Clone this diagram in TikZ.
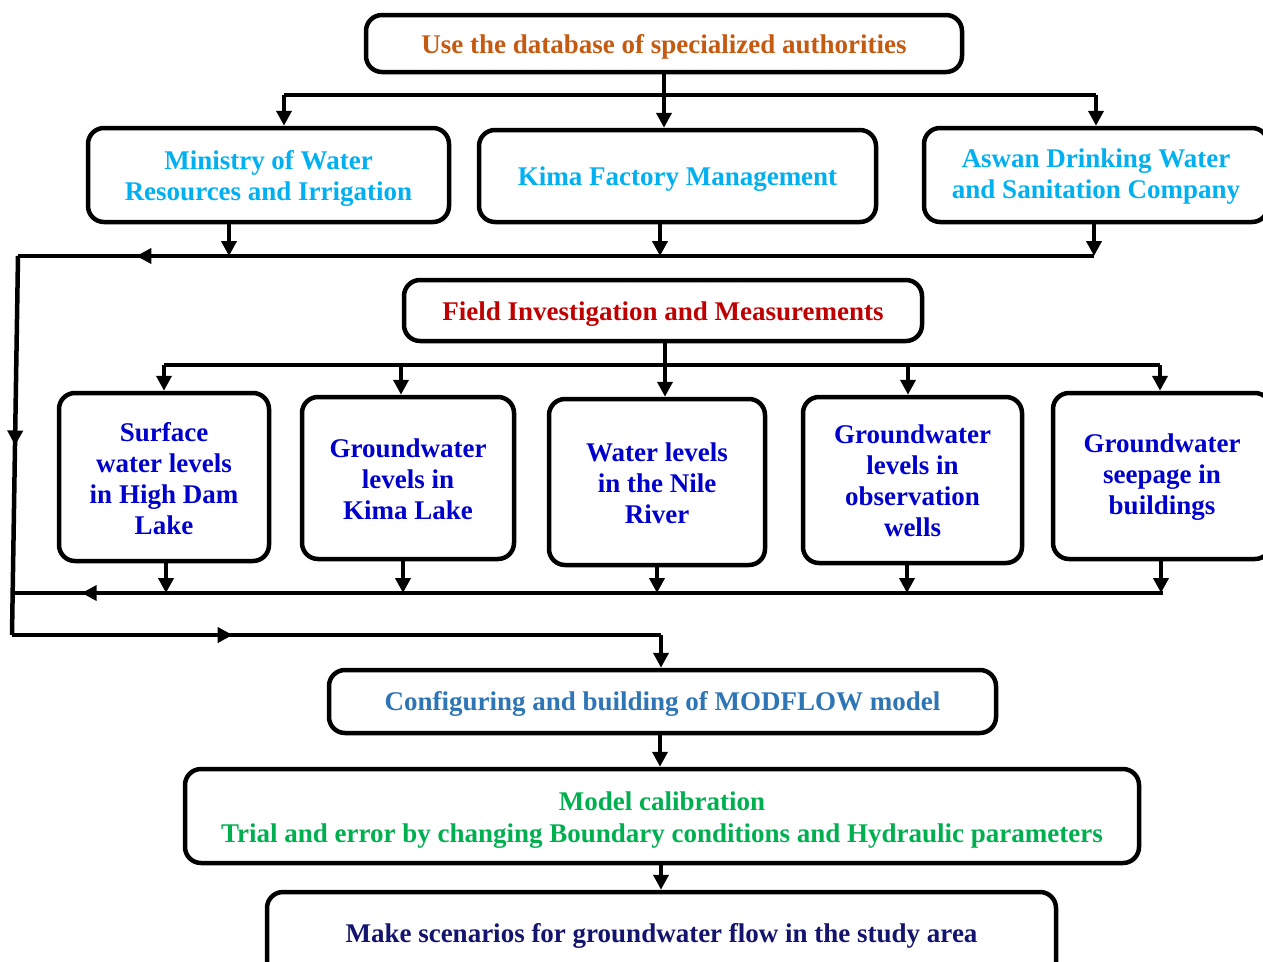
\documentclass[tikz,border=0pt]{standalone}
\usepackage{fontspec}
\setmainfont{Liberation Serif}
\usetikzlibrary{arrows.meta,decorations.markings}
\definecolor{corange}{HTML}{C55A11}
\definecolor{ccyan}{HTML}{00B0F0}
\definecolor{cred}{HTML}{C00000}
\definecolor{cblue}{HTML}{0000CC}
\definecolor{cmod}{HTML}{2E75B6}
\definecolor{cgreen}{HTML}{00B050}
\definecolor{cnavy}{HTML}{14146E}
\newcommand{\lowstrut}[1]{\rule{0pt}{#1}}
\tikzset{
  box/.style={draw, line width=4.5pt, rounded corners=16pt, fill=white, inner sep=0pt, align=center,
    font=\fontsize{27}{31}\selectfont\bfseries},
  line/.style={line width=4.5pt},
  arr/.style={line width=4.5pt, -{Triangle[length=15pt,width=15pt]}},
  midarrow/.style={line width=4.5pt, postaction={decorate}, decoration={markings,
    mark=at position #1 with {\arrow{Triangle[length=15pt,width=15pt]}}}}
}
\begin{document}
\begin{tikzpicture}[x=1pt,y=-1pt]
\useasboundingbox (0,0) rectangle (1263,961);
% boxes
\node[box, text=corange, minimum width=596pt, minimum height=57pt] (top) at (664,43.5) {\lowstrut{25.5pt}Use the database of specialized authorities};
\node[box, text=ccyan, minimum width=361pt, minimum height=94pt] (min) at (268.5,175) {\lowstrut{25pt}Ministry of Water\\Resources and Irrigation};
\node[box, text=ccyan, minimum width=397pt, minimum height=92pt] (kima) at (677.5,176) {\lowstrut{25.5pt}Kima Factory Management};
\node[box, text=ccyan, minimum width=344pt, minimum height=94pt] (asw) at (1096,175) {\lowstrut{22pt}Aswan Drinking Water\\and Sanitation Company};
\node[box, text=cred, minimum width=518pt, minimum height=61pt] (field) at (663,310.5) {\lowstrut{25.5pt}Field Investigation and Measurements};
\node[box, text=cblue, minimum width=210pt, minimum height=168pt] (r1) at (164,477) {\lowstrut{22pt}Surface\\water levels\\in High Dam\\Lake};
\node[box, text=cblue, minimum width=212pt, minimum height=162pt] (r2) at (408,478) {\lowstrut{22pt}Groundwater\\levels in\\Kima Lake};
\node[box, text=cblue, minimum width=216pt, minimum height=166pt] (r3) at (657,482) {\lowstrut{22pt}Water levels\\in the Nile\\River};
\node[box, text=cblue, minimum width=219pt, minimum height=166pt] (r4) at (912.5,480) {\lowstrut{20pt}Groundwater\\levels in\\observation\\wells};
\node[box, text=cblue, minimum width=218pt, minimum height=166pt] (r5) at (1162,476) {\lowstrut{20pt}Groundwater\\seepage in\\buildings};
\node[box, text=cmod, minimum width=667pt, minimum height=63pt] (conf) at (662.5,701.5) {\lowstrut{24pt}Configuring and building of MODFLOW model};
\node[box, text=cgreen, minimum width=954pt, minimum height=94pt, font=\fontsize{27}{32}\selectfont\bfseries] (cal) at (662,816) {\lowstrut{26pt}Model calibration\\Trial and error by changing Boundary conditions and Hydraulic parameters};
\node[box, text=cnavy, minimum width=789pt, minimum height=88pt] (scen) at (661.5,936) {\lowstrut{17.5pt}Make scenarios for groundwater flow in the study area};
% top bus
\coordinate (tb1) at (284,95);
\coordinate (tb2) at (1096,95);
\draw[line] (tb1) -- (tb2);
\draw[arr] (top.south) -- (top.south |- kima.north);
\draw[arr] (tb1) -- (tb1 |- min.north);
\draw[arr] (tb2) -- (tb2 |- asw.north);
% second bus
\coordinate (m2) at (229,256);
\coordinate (k2) at (660,256);
\coordinate (a2) at (1094,256);
\coordinate (L1) at (18,256);
\coordinate (L2) at (12,635);
\coordinate (C2) at (661,635);
\draw[arr] (m2 |- min.south) -- (m2);
\draw[arr] (k2 |- kima.south) -- (k2);
\draw[arr] (a2 |- asw.south) -- (a2);
\draw[midarrow=0.89] (a2) -- (L1);
\draw[midarrow=0.5] (L1) -- (L2);
\draw[midarrow=0.34] (L2) -- (C2);
\draw[arr] (C2) -- (C2 |- conf.north);
% field bus
\coordinate (f1) at (164,365);
\coordinate (f2) at (401,365);
\coordinate (f3) at (665,365);
\coordinate (f4) at (908,365);
\coordinate (f5) at (1160,365);
\draw[line] (f1) -- (f5);
\draw[line] (f3 |- field.south) -- (f3);
\draw[arr] (f1) -- (f1 |- r1.north);
\draw[arr] (f2) -- (f2 |- r2.north);
\draw[arr] (f3) -- (f3 |- r3.north);
\draw[arr] (f4) -- (f4 |- r4.north);
\draw[arr] (f5) -- (f5 |- r5.north);
% row bus
\coordinate (g1) at (166,593);
\coordinate (g2) at (403,593);
\coordinate (g3) at (657,593);
\coordinate (g4) at (907,593);
\coordinate (g5) at (1161,593);
\coordinate (gR) at (1163,593);
\coordinate (gL) at (12.7,593);
\draw[arr] (g1 |- r1.south) -- (g1);
\draw[arr] (g2 |- r2.south) -- (g2);
\draw[arr] (g3 |- r3.south) -- (g3);
\draw[arr] (g4 |- r4.south) -- (g4);
\draw[arr] (g5 |- r5.south) -- (g5);
\draw[midarrow=0.94] (gR) -- (gL);
% lower chain
\coordinate (c1) at (660,735);
\draw[arr] (conf.south -| c1) -- (c1 |- cal.north);
\coordinate (c2) at (661,865);
\draw[arr] (cal.south -| c2) -- (c2 |- scen.north);
\end{tikzpicture}
\end{document}
